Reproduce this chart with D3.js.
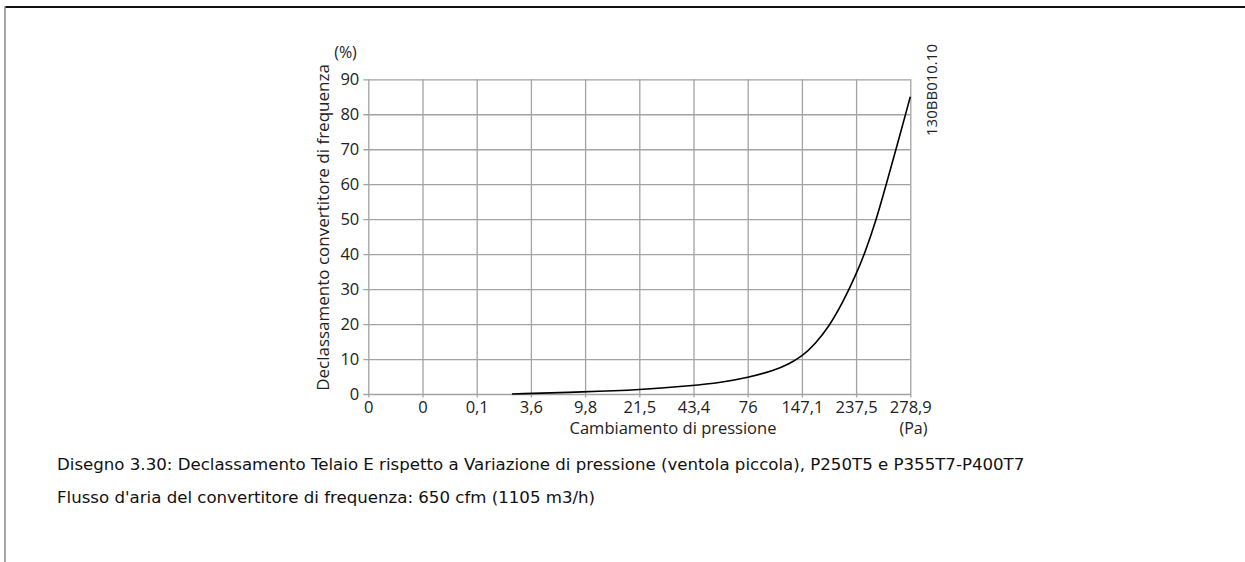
<!DOCTYPE html>
<html>
<head>
<meta charset="utf-8">
<script src="https://cdn.jsdelivr.net/npm/d3@7"></script>
<style>
  html, body { margin: 0; padding: 0; background: #fff; }
  svg { display: block; }
</style>
</head>
<body>
<svg id="chart" width="1245" height="562"></svg>
<script>
// ---- data ----
const xTickLabels = ["0", "0", "0,1", "3,6", "9,8", "21,5", "43,4", "76", "147,1", "237,5", "278,9"];
const yTicks = [0, 10, 20, 30, 40, 50, 60, 70, 80, 90];
// curve: position along the category axis (tick index) and derating (%)
const curvePos = [2.65, 4.0, 5.0, 6.0, 6.5, 7.0, 7.5, 7.75, 8.0, 8.25, 8.5, 8.75, 9.0, 9.16, 9.38, 9.56, 9.75, 10.0];
const curveVal = [0.0, 0.6, 1.2, 2.4, 3.3, 4.7, 6.8, 8.5, 10.7, 14.4, 19.3, 26.0, 34.2, 40.2, 50.2, 60.2, 70.7, 85.0];
const yTitle = "Declassamento convertitore di frequenza";
const xTitle = "Cambiamento di pressione";
const caption1 = "Disegno 3.30: Declassamento Telaio E rispetto a Variazione di pressione (ventola piccola), P250T5 e P355T7-P400T7";
const caption2 = "Flusso d'aria del convertitore di frequenza: 650 cfm (1105 m3/h)";
const docId = "130BB010.10";

// ---- layout ----
const svg = d3.select("#chart");
const L = 368.3, R = 910.3, T = 79.3, B = 394;
const chartFont = "'Open Sans', 'Noto Sans', sans-serif";
const gridColor = "#a3a3a3";

const x = d3.scaleLinear().domain([0, xTickLabels.length - 1]).range([L, R]);
const y = d3.scaleLinear().domain([0, 90]).range([B, T]);

// frame
svg.append("line").attr("x1", 5).attr("x2", 1245).attr("y1", 7).attr("y2", 7)
  .attr("stroke", "#111").attr("stroke-width", 2);
svg.append("line").attr("x1", 5).attr("x2", 5).attr("y1", 6).attr("y2", 562)
  .attr("stroke", "#8a8a8a").attr("stroke-width", 1.5);

// y axis with grid
const yAxis = d3.axisLeft(y).tickValues(yTicks).tickSize(R - L + 5).tickPadding(4).tickFormat(d3.format("d"));
const gy = svg.append("g").attr("transform", `translate(${R},0)`).call(yAxis);
gy.select(".domain").remove();
gy.selectAll("line").attr("stroke", gridColor).attr("stroke-width", 1.3);
gy.selectAll("text").attr("font-family", chartFont).attr("font-size", 16.5).attr("fill", "#222");

// x axis with grid
const xAxis = d3.axisBottom(x).tickValues(d3.range(xTickLabels.length)).tickSize(B - T + 3.5).tickPadding(4)
  .tickFormat(i => xTickLabels[i]);
const gx = svg.append("g").attr("transform", `translate(0,${T})`).call(xAxis);
gx.select(".domain").remove();
gx.selectAll("line").attr("stroke", gridColor).attr("stroke-width", 1.3);
gx.selectAll("text").attr("font-family", chartFont).attr("font-size", 16.5).attr("fill", "#222");

// curve
const line = d3.line().x((d, i) => x(curvePos[i])).y(d => y(d)).curve(d3.curveBasis);
svg.append("path").datum(curveVal).attr("d", line)
  .attr("fill", "none").attr("stroke", "#000").attr("stroke-width", 1.6);

// titles
svg.append("text").attr("x", 345.5).attr("y", 58).attr("text-anchor", "middle")
  .attr("font-family", chartFont).attr("font-size", 16).attr("fill", "#222").text("(%)");
svg.append("text").attr("transform", "translate(329,227.5) rotate(-90)").attr("text-anchor", "middle")
  .attr("font-family", chartFont).attr("font-size", 17).attr("fill", "#222").text(yTitle);
svg.append("text").attr("x", 673).attr("y", 434).attr("text-anchor", "middle")
  .attr("font-family", chartFont).attr("font-size", 16.5).attr("fill", "#222").text(xTitle);
svg.append("text").attr("x", 913.5).attr("y", 434).attr("text-anchor", "middle")
  .attr("font-family", chartFont).attr("font-size", 16).attr("fill", "#222").text("(Pa)");
svg.append("text").attr("transform", "translate(937,90) rotate(-90)").attr("text-anchor", "middle")
  .attr("font-family", chartFont).attr("font-size", 15).attr("fill", "#222").text(docId);

// captions
const capFont = "'DejaVu Sans', sans-serif";
const c1 = svg.append("text").attr("x", 57).attr("y", 470)
  .attr("font-family", capFont).attr("font-size", 14).attr("fill", "#111").text(caption1);
// fit caption width to the reference layout (~968px for line 1)
const w1 = c1.node().getComputedTextLength();
const capSize = 14 * 968 / w1;
c1.attr("font-size", capSize);
svg.append("text").attr("x", 57).attr("y", 503)
  .attr("font-family", capFont).attr("font-size", capSize).attr("fill", "#111").text(caption2);
</script>
</body>
</html>
